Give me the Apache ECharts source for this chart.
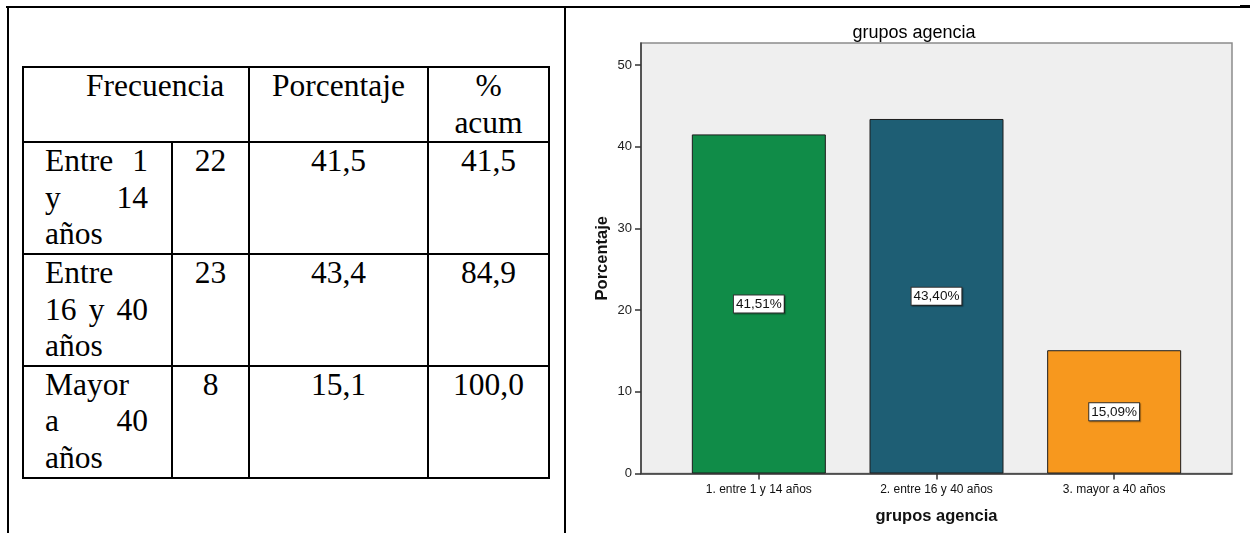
<!DOCTYPE html>
<html lang="es">
<head>
<meta charset="utf-8">
<title>grupos agencia</title>
<script src="https://cdn.jsdelivr.net/npm/echarts@6/dist/echarts.min.js"></script>
<style>
  html, body { margin: 0; padding: 0; background: #fff; }
  body { position: relative; width: 1250px; height: 533px; overflow: hidden; }
  .rule { position: absolute; background: #000; }
  #freqTable {
    position: absolute; left: 22px; top: 66px;
    border-collapse: collapse; table-layout: fixed;
    font-family: "Liberation Serif", "Times New Roman", serif;
    font-size: 31.5px; line-height: 36.6px; color: #000;
  }
  #freqTable td { border: 2px solid #000; padding: 0; vertical-align: top; }
  #freqTable td.hdr-first { text-align: left; padding-left: 62px; }
  #freqTable td.center { text-align: center; }
  #freqTable td.label { text-align: justify; padding-left: 21px; padding-right: 23px; }
  #chart { position: absolute; left: 567px; top: 0; width: 683px; height: 533px; }
</style>
</head>
<body>
<div class="rule" style="left:6px; top:6px; width:1234px; height:2px;"></div>
<div class="rule" style="left:1240px; top:5px; width:10px; height:3px;"></div>
<div class="rule" style="left:7px; top:6px; width:2px; height:527px;"></div>
<div class="rule" style="left:564px; top:6px; width:2px; height:527px;"></div>

<table id="freqTable">
  <colgroup>
    <col style="width:149px"><col style="width:77px"><col style="width:179px"><col style="width:121px">
  </colgroup>
  <tbody id="freqBody"></tbody>
</table>

<div id="chart"></div>

<script>
// Frequency table contents
const tableHeaders = ['Frecuencia', 'Porcentaje', '%<br>acum'];
const rowLabels = ['Entre 1 y 14 años', 'Entre 16 y 40 años', 'Mayor a 40 años'];
const frequencies = [22, 23, 8];
const percentCol = ['41,5', '43,4', '15,1'];
const cumulativeCol = ['41,5', '84,9', '100,0'];

// Bar chart contents
const categories = ['1. entre 1 y 14 años', '2. entre 16 y 40 años', '3. mayor a 40 años'];
const percentages = [41.51, 43.40, 15.09];
const yTicks = [0, 10, 20, 30, 40, 50];
const barColors = ['#108c48', '#1e5e74', '#f7981e'];

// Build the table rows
const body = document.getElementById('freqBody');
let html = '<tr style="height:72px">' +
  '<td class="hdr-first" colspan="2">' + tableHeaders[0] + '</td>' +
  '<td class="center">' + tableHeaders[1] + '</td>' +
  '<td class="center">' + tableHeaders[2] + '</td></tr>';
for (let i = 0; i < rowLabels.length; i++) {
  html += '<tr style="height:110px">' +
    '<td class="label">' + rowLabels[i] + '</td>' +
    '<td class="center">' + frequencies[i] + '</td>' +
    '<td class="center">' + percentCol[i] + '</td>' +
    '<td class="center">' + cumulativeCol[i] + '</td></tr>';
}
body.innerHTML = html;

// Chart
const chart = echarts.init(document.getElementById('chart'), null, { renderer: 'canvas' });
const sans = '"Liberation Sans", Arial, sans-serif';
const narrow = '"Liberation Sans Narrow", "Liberation Sans", Arial, sans-serif';
const fmt = v => v.toFixed(2).replace('.', ',') + '%';
const yMax = 52.7;

chart.setOption({
  animation: false,
  title: {
    text: 'grupos agencia',
    left: 342, top: 19, textAlign: 'center',
    textStyle: { fontFamily: sans, fontSize: 18, fontWeight: 'normal', color: '#000' }
  },
  grid: [
    { left: 74, right: 18, top: 43, bottom: 59.5, show: true, backgroundColor: '#efefef', borderColor: '#8c8c8c', borderWidth: 1.5 },
    { left: 103, right: 47, top: 43, bottom: 59.5 }
  ],
  xAxis: [
    {
      gridIndex: 0, type: 'value', min: 0, max: 1,
      axisLine: { show: true, lineStyle: { color: '#3a3a3a', width: 1.5 } },
      axisTick: { show: false }, axisLabel: { show: false }, splitLine: { show: false }
    },
    {
      gridIndex: 1, type: 'category', data: categories,
      axisLine: { show: false },
      axisTick: { show: true, alignWithLabel: true, length: 6, lineStyle: { color: '#333', width: 1.5 } },
      axisLabel: { margin: 10, fontFamily: narrow, fontSize: 12, color: '#111' },
      name: 'grupos agencia', nameLocation: 'middle', nameGap: 34, nameMoveOverlap: false,
      nameTextStyle: { fontFamily: sans, fontSize: 16.5, fontWeight: 'bold', color: '#111' }
    }
  ],
  yAxis: [
    {
      gridIndex: 0, type: 'value', min: 0, max: yMax,
      axisLine: { show: true, lineStyle: { color: '#3a3a3a', width: 1.5 } },
      axisTick: { show: true, customValues: yTicks, length: 6, lineStyle: { color: '#333', width: 1.5 } },
      axisLabel: { customValues: yTicks, margin: 9, fontFamily: narrow, fontSize: 13, color: '#222' },
      splitLine: { show: false },
      name: 'Porcentaje', nameLocation: 'middle', nameGap: 30, nameMoveOverlap: false,
      nameTextStyle: { fontFamily: sans, fontSize: 16.5, fontWeight: 'bold', color: '#111' }
    },
    { gridIndex: 1, type: 'value', min: 0, max: yMax, show: false }
  ],
  series: [{
    type: 'bar',
    xAxisIndex: 1, yAxisIndex: 1,
    barWidth: 134,
    data: percentages.map((v, i) => ({ value: v, itemStyle: { color: barColors[i] } })),
    itemStyle: { borderColor: '#1c1c1c', borderWidth: 1 },
    label: {
      show: true, position: 'inside',
      formatter: p => fmt(p.value),
      fontFamily: narrow, fontSize: 13.5, color: '#111',
      backgroundColor: '#fff', borderColor: '#333', borderWidth: 1,
      padding: [2, 2, 1, 2],
      shadowColor: 'rgba(0,0,0,0.35)', shadowOffsetX: 1, shadowOffsetY: 1, shadowBlur: 1
    }
  }]
});
</script>
</body>
</html>
